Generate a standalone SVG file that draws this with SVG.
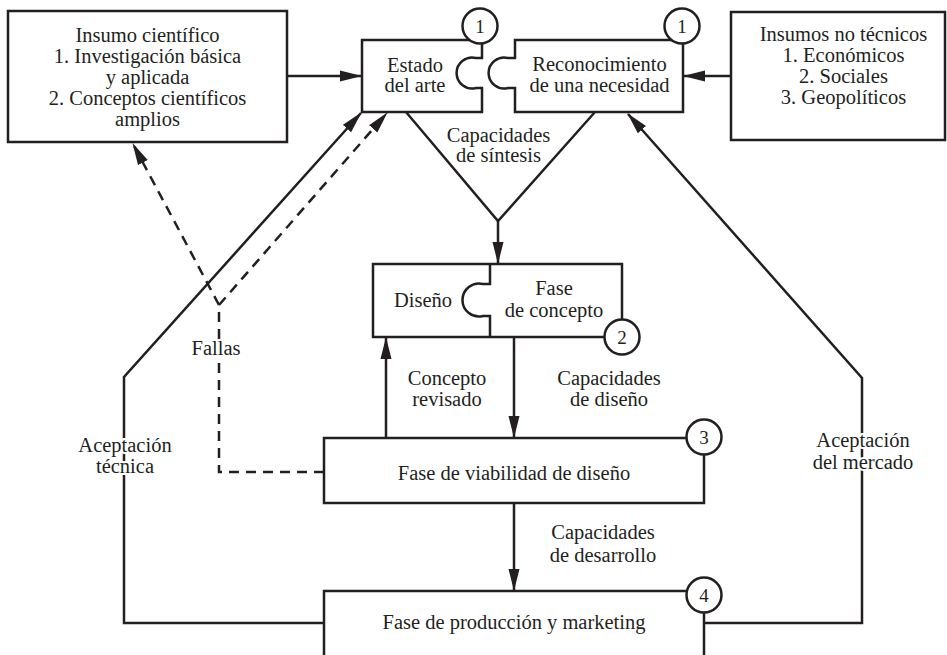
<svg xmlns="http://www.w3.org/2000/svg" width="947" height="655" viewBox="0 0 947 655" font-family="'Liberation Serif', 'DejaVu Serif', serif">
<style>
.box{fill:#fff;stroke:#231f20;stroke-width:2.5}
.ln{fill:none;stroke:#231f20;stroke-width:2.5}
.dash{stroke-dasharray:10 7}
.num{fill:#fff;stroke:#231f20;stroke-width:2.5}
text{font-family:'Liberation Serif','DejaVu Serif',serif;font-size:20.5px;fill:#231f20;text-anchor:middle}
text.n{font-size:19px}
text.halo{paint-order:stroke;stroke:#fff;stroke-width:4;stroke-linejoin:round}
</style>
<defs>
<marker id="ah" markerUnits="userSpaceOnUse" markerWidth="22" markerHeight="12" refX="21" refY="6" orient="auto">
<path d="M0,0.5 L22,6 L0,11.5 Z" fill="#231f20"/>
</marker>
</defs>
<rect x="0" y="0" width="947" height="655" fill="#fff"/>
<g id="connectors">
<path class="ln" d="M287,76 H361" marker-end="url(#ah)"/>
<path class="ln" d="M731,76 H684" marker-end="url(#ah)"/>
<path class="ln" d="M406,112 L498,221 L595,112"/>
<path class="ln" d="M498,221 V263" marker-end="url(#ah)"/>
<path class="ln" d="M386,438 V338" marker-end="url(#ah)"/>
<path class="ln" d="M514,337 V437" marker-end="url(#ah)"/>
<path class="ln" d="M514,503 V590" marker-end="url(#ah)"/>
<path class="ln" d="M324,623 H124 V377 L361,113" marker-end="url(#ah)"/>
<path class="ln" d="M704,623 H862 V378 L628,114" marker-end="url(#ah)"/>
<path class="ln dash" d="M324,472 H219 V305 L387,113" marker-end="url(#ah)"/>
<path class="ln dash" d="M219,305 L133,144" marker-end="url(#ah)"/>
<text x="498.5" y="142">Capacidades</text>
<text x="498.5" y="162">de síntesis</text>
<text x="447" y="385">Concepto</text>
<text x="447" y="406">revisado</text>
<text x="609" y="385">Capacidades</text>
<text x="609" y="406">de diseño</text>
<text x="603" y="539">Capacidades</text>
<text x="603" y="562">de desarrollo</text>
<text class="halo" x="216" y="355">Fallas</text>
<text class="halo" x="125" y="452">Aceptación</text>
<text class="halo" x="125" y="473">técnica</text>
<text class="halo" x="863" y="447">Aceptación</text>
<text class="halo" x="863" y="469">del mercado</text>
</g>
<g id="insumo-cientifico">
<rect class="box" x="8" y="11" width="279" height="131"/>
<text x="147.5" y="42">Insumo científico</text>
<text x="147.5" y="63">1. Investigación básica</text>
<text x="147.5" y="84">y aplicada</text>
<text x="147.5" y="105">2. Conceptos científicos</text>
<text x="147.5" y="126">amplios</text>
</g>
<g id="insumos-no-tecnicos">
<rect class="box" x="731" y="12" width="214" height="128"/>
<text x="843.5" y="41">Insumos no técnicos</text>
<text x="843.5" y="62">1. Económicos</text>
<text x="843.5" y="83">2. Sociales</text>
<text x="843.5" y="104">3. Geopolíticos</text>
</g>
<g id="estado-del-arte">
<path class="box" d="M362,40 H482 V58 H476 A15.5,15.5 0 1,0 476,88 H482 V112 H362 Z"/>
<circle class="num" cx="480" cy="26" r="17.5"/>
<text class="n" x="480" y="32.5">1</text>
<text x="415" y="72">Estado</text>
<text x="415" y="92">del arte</text>
</g>
<g id="reconocimiento">
<path class="box" d="M515,40 H683 V112 H515 V88 H508 A15.5,15.5 0 1,1 508,58 H515 Z"/>
<circle class="num" cx="682" cy="26" r="17.5"/>
<text class="n" x="682" y="32.5">1</text>
<text x="599.5" y="71">Reconocimiento</text>
<text x="599.5" y="92">de una necesidad</text>
</g>
<g id="fase-concepto">
<rect class="box" x="373" y="264" width="249" height="73"/>
<path class="ln" d="M490,264 V284 H483 A16.5,16.5 0 1,0 483,316 H490 V337"/>
<circle class="num" cx="622" cy="337" r="17.5"/>
<text class="n" x="622" y="343.5">2</text>
<text x="423" y="307">Diseño</text>
<text x="554" y="295">Fase</text>
<text x="554" y="317">de concepto</text>
</g>
<g id="viabilidad">
<rect class="box" x="324" y="438" width="380" height="65"/>
<circle class="num" cx="704" cy="437" r="17.5"/>
<text class="n" x="704" y="443.5">3</text>
<text x="514" y="480">Fase de viabilidad de diseño</text>
</g>
<g id="produccion">
<rect class="box" x="324" y="591" width="380" height="80"/>
<circle class="num" cx="704" cy="595" r="17.5"/>
<text class="n" x="704" y="601.5">4</text>
<text x="514" y="629">Fase de producción y marketing</text>
</g>
</svg>
